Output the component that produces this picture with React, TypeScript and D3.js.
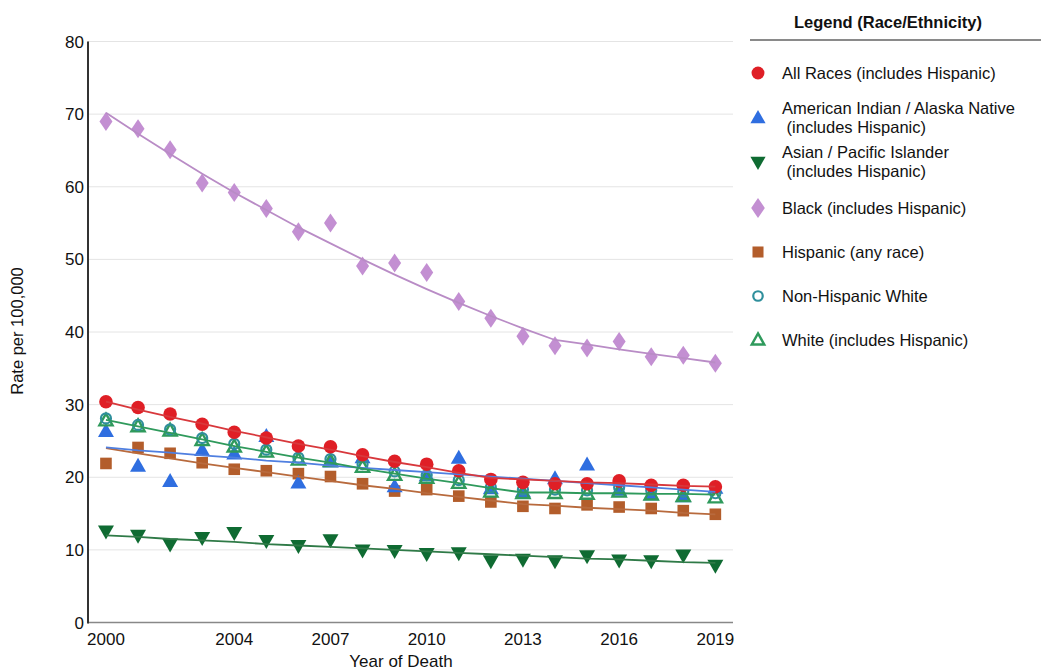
import React from "react";
import * as d3 from "d3";

const years = [2000, 2001, 2002, 2003, 2004, 2005, 2006, 2007, 2008, 2009, 2010, 2011, 2012, 2013, 2014, 2015, 2016, 2017, 2018, 2019];
const xTickYears = [2000, 2004, 2007, 2010, 2013, 2016, 2019];
const yTicks = [0, 10, 20, 30, 40, 50, 60, 70, 80];

// observed rates
const allRaces = [30.4, 29.6, 28.7, 27.3, 26.2, 25.4, 24.3, 24.2, 23.1, 22.2, 21.8, 20.9, 19.7, 19.3, 19.1, 19.1, 19.5, 18.9, 18.9, 18.7];
const aian = [26.3, 21.5, 19.4, 23.7, 23.2, 25.6, 19.2, 22.1, 22.7, 18.7, 20.2, 22.6, 18.4, 18.0, 19.8, 21.7, 18.2, 17.6, 17.3, 18.5];
const api = [12.6, 12.0, 10.8, 11.7, 12.4, 11.3, 10.6, 11.4, 10.0, 9.9, 9.5, 9.6, 8.5, 8.7, 8.5, 9.2, 8.6, 8.5, 9.3, 7.9];
const black = [69.0, 68.0, 65.1, 60.5, 59.2, 57.0, 53.8, 55.0, 49.1, 49.5, 48.2, 44.2, 41.9, 39.4, 38.1, 37.8, 38.7, 36.6, 36.8, 35.7];
const hispanic = [21.9, 24.1, 23.3, 22.0, 21.1, 20.9, 20.5, 20.1, 19.1, 18.1, 18.3, 17.4, 16.6, 16.0, 15.7, 16.2, 15.9, 15.7, 15.4, 14.9];
const nhWhite = [28.1, 27.2, 26.6, 25.4, 24.6, 23.8, 22.7, 22.5, 21.8, 20.8, 20.3, 19.6, 18.6, 18.3, 18.3, 18.2, 18.6, 18.2, 18.0, 17.8];
const white = [27.8, 27.0, 26.4, 25.1, 24.2, 23.5, 22.4, 22.2, 21.4, 20.3, 19.9, 19.2, 18.0, 17.8, 17.8, 17.7, 18.0, 17.6, 17.4, 17.2];

// fitted trend values
const allRacesTrend = [30.4, 29.3, 28.3, 27.4, 26.4, 25.5, 24.6, 23.8, 22.9, 22.1, 21.4, 20.6, 19.9, 19.7, 19.5, 19.3, 19.2, 19.0, 18.8, 18.7];
const aianTrend = [24.1, 23.7, 23.4, 23.0, 22.7, 22.3, 22.0, 21.6, 21.3, 21.0, 20.7, 20.4, 20.1, 19.8, 19.5, 19.2, 18.9, 18.6, 18.3, 18.0];
const apiTrend = [12.0, 11.8, 11.5, 11.3, 11.1, 10.8, 10.6, 10.4, 10.2, 10.0, 9.8, 9.6, 9.4, 9.2, 9.0, 8.8, 8.7, 8.5, 8.3, 8.2];
const blackTrend = [70.2, 67.3, 64.5, 61.8, 59.2, 56.8, 54.4, 52.2, 50.0, 47.9, 45.9, 44.0, 42.2, 40.5, 38.9, 38.3, 37.6, 37.0, 36.4, 35.8];
const hispanicTrend = [24.0, 23.3, 22.6, 21.9, 21.3, 20.7, 20.1, 19.5, 18.9, 18.4, 17.8, 17.3, 16.8, 16.3, 16.1, 15.8, 15.6, 15.4, 15.1, 14.9];
const whiteTrend = [27.9, 27.0, 26.1, 25.2, 24.3, 23.5, 22.7, 22.0, 21.2, 20.5, 19.8, 19.2, 18.5, 17.9, 17.9, 17.8, 17.8, 17.7, 17.7, 17.6];

const legendLabels = [
  ["All Races (includes Hispanic)"],
  ["American Indian / Alaska Native", " (includes Hispanic)"],
  ["Asian / Pacific Islander", " (includes Hispanic)"],
  ["Black (includes Hispanic)"],
  ["Hispanic (any race)"],
  ["Non-Hispanic White"],
  ["White (includes Hispanic)"],
];

type Shape = "circle" | "triUp" | "triDown" | "diamond" | "square" | "ring" | "triHollow";

interface Series {
  key: string;
  values: number[];
  trend: number[] | null;
  color: string;
  lineColor: string;
  shape: Shape;
}

const series: Series[] = [
  { key: "black", values: black, trend: blackTrend, color: "#c38fd2", lineColor: "#b98cc6", shape: "diamond" },
  { key: "api", values: api, trend: apiTrend, color: "#0f6b32", lineColor: "#2f7a47", shape: "triDown" },
  { key: "hispanic", values: hispanic, trend: hispanicTrend, color: "#b35d2b", lineColor: "#b86a3d", shape: "square" },
  { key: "aian", values: aian, trend: aianTrend, color: "#2f6ee0", lineColor: "#4f7fe0", shape: "triUp" },
  { key: "white", values: white, trend: whiteTrend, color: "#2f9a5c", lineColor: "#2f9a5c", shape: "triHollow" },
  { key: "nhw", values: nhWhite, trend: null, color: "#2f8f9c", lineColor: "#2f8f9c", shape: "ring" },
  { key: "all", values: allRaces, trend: allRacesTrend, color: "#df1f26", lineColor: "#d8383c", shape: "circle" },
];

const legendStyle: { color: string; shape: Shape }[] = [
  { color: "#df1f26", shape: "circle" },
  { color: "#2f6ee0", shape: "triUp" },
  { color: "#0f6b32", shape: "triDown" },
  { color: "#c38fd2", shape: "diamond" },
  { color: "#b35d2b", shape: "square" },
  { color: "#2f8f9c", shape: "ring" },
  { color: "#2f9a5c", shape: "triHollow" },
];

function Marker({ shape, x, y, color, s = 1 }: { shape: Shape; x: number; y: number; color: string; s?: number }) {
  switch (shape) {
    case "circle":
      return <circle cx={x} cy={y} r={6.8 * s} fill={color} />;
    case "ring":
      return <circle cx={x} cy={y} r={5 * s} fill="none" stroke={color} strokeWidth={2.2} />;
    case "square":
      return <rect x={x - 5.8 * s} y={y - 5.8 * s} width={11.6 * s} height={11.6 * s} fill={color} />;
    case "diamond":
      return <path d={`M${x},${y - 9.5 * s}L${x + 6.5 * s},${y}L${x},${y + 9.5 * s}L${x - 6.5 * s},${y}Z`} fill={color} />;
    case "triUp":
      return <path d={`M${x},${y - 8.5 * s}L${x + 8 * s},${y + 5.5 * s}L${x - 8 * s},${y + 5.5 * s}Z`} fill={color} />;
    case "triDown":
      return <path d={`M${x},${y + 8.5 * s}L${x + 8 * s},${y - 5.5 * s}L${x - 8 * s},${y - 5.5 * s}Z`} fill={color} />;
    case "triHollow":
      return <path d={`M${x},${y - 7 * s}L${x + 6.6 * s},${y + 4.8 * s}L${x - 6.6 * s},${y + 4.8 * s}Z`} fill="none" stroke={color} strokeWidth={2.4} strokeLinejoin="miter" />;
  }
  return null;
}

export default function App() {
  const W = 1041;
  const H = 670;
  const x = d3.scaleLinear().domain([1999.44, 2019.55]).range([88, 733]);
  const y = d3.scaleLinear().domain([0, 80]).range([622.5, 41.5]);
  const line = d3
    .line<number>()
    .x((_, i) => x(years[i]))
    .y((d) => y(d));
  const font = "'Liberation Sans', Arial, Helvetica, sans-serif";

  const legendY = [73, 118, 162, 208, 252, 296, 340];

  return (
    <svg width={W} height={H} style={{ position: "absolute", left: 0, top: 0, background: "#fff" }} fontFamily={font}>
      {/* gridlines */}
      {yTicks.slice(1).map((t) => (
        <line key={t} x1={88} x2={733} y1={y(t)} y2={y(t)} stroke="#e4e4e4" strokeWidth={1} />
      ))}
      {/* axes */}
      <line x1={88} x2={733} y1={y(0)} y2={y(0)} stroke="#888" strokeWidth={1.5} />
      <line x1={88} x2={88} y1={y(80)} y2={y(0) + 1} stroke="#333" strokeWidth={2} />
      {yTicks.map((t) => (
        <text key={t} x={84} y={y(t) + 6} textAnchor="end" fontSize={17} fill="#111">
          {t}
        </text>
      ))}
      {xTickYears.map((t) => (
        <text key={t} x={x(t)} y={645} textAnchor="middle" fontSize={17} fill="#111">
          {t}
        </text>
      ))}
      <text x={401} y={667} textAnchor="middle" fontSize={17} fill="#111">
        Year of Death
      </text>
      <text transform={`translate(23,331) rotate(-90)`} textAnchor="middle" fontSize={16.5} fill="#111">
        Rate per 100,000
      </text>

      {/* series */}
      {series.map((s) => (
        <g key={s.key}>
          {s.values.map((v, i) => (
            <Marker key={i} shape={s.shape} x={x(years[i])} y={y(v)} color={s.color} />
          ))}
        </g>
      ))}
      {series.map((s) =>
        s.trend ? <path key={s.key + "t"} d={line(s.trend) || ""} fill="none" stroke={s.lineColor} strokeWidth={1.8} /> : null
      )}

      {/* legend */}
      <text x={888} y={28} textAnchor="middle" fontSize={16.5} fontWeight="bold" fill="#111">
        Legend (Race/Ethnicity)
      </text>
      <line x1={750} x2={1041} y1={40} y2={40} stroke="#8a8a8a" strokeWidth={2} />
      {legendLabels.map((lines, i) => {
        const cy = legendY[i];
        const st = legendStyle[i];
        return (
          <g key={i}>
            <Marker shape={st.shape} x={758} y={cy} color={st.color} s={st.shape === "diamond" ? 1.05 : 0.95} />
            {lines.length === 1 ? (
              <text x={782} y={cy + 6} fontSize={16.5} fill="#111">
                {lines[0]}
              </text>
            ) : (
              lines.map((l, j) => (
                <text key={j} x={782} y={cy - 4.5 + j * 19.5} fontSize={16.5} fill="#111" style={{ whiteSpace: "pre" }}>
                  {l}
                </text>
              ))
            )}
          </g>
        );
      })}
    </svg>
  );
}
